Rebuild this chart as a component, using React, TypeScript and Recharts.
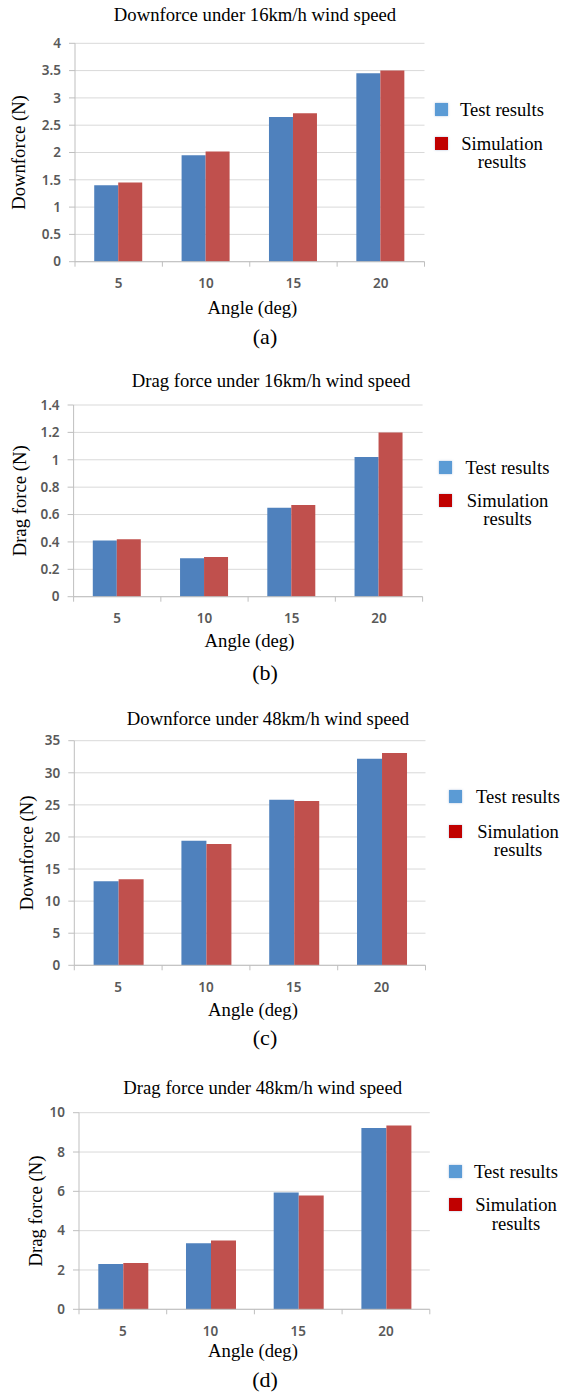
import React from 'react';
import { BarChart, Bar, XAxis, YAxis, CartesianGrid, Legend, Label } from 'recharts';

const angles = ['5', '10', '15', '20'];
const seriesNames = ['Test results', 'Simulation results'];
const legendLines = [['Test results'], ['Simulation', 'results']];

const downforce16Test = [1.4, 1.95, 2.65, 3.45];
const downforce16Sim = [1.45, 2.02, 2.72, 3.5];
const drag16Test = [0.41, 0.28, 0.65, 1.02];
const drag16Sim = [0.42, 0.29, 0.67, 1.2];
const downforce48Test = [13.1, 19.4, 25.8, 32.2];
const downforce48Sim = [13.4, 18.9, 25.6, 33.1];
const drag48Test = [2.3, 3.36, 5.94, 9.22];
const drag48Sim = [2.35, 3.5, 5.79, 9.35];

const ticksA = [0, 0.5, 1, 1.5, 2, 2.5, 3, 3.5, 4];
const ticksB = [0, 0.2, 0.4, 0.6, 0.8, 1, 1.2, 1.4];
const ticksC = [0, 5, 10, 15, 20, 25, 30, 35];
const ticksD = [0, 2, 4, 6, 8, 10];

const titles = [
  'Downforce under 16km/h wind speed',
  'Drag force under 16km/h wind speed',
  'Downforce under 48km/h wind speed',
  'Drag force under 48km/h wind speed',
];
const yTitles = ['Downforce (N)', 'Drag force (N)', 'Downforce (N)', 'Drag force (N)'];
const xTitle = 'Angle (deg)';
const captions = ['(a)', '(b)', '(c)', '(d)'];

const barColors = ['#4F81BD', '#C0504D'];
const legendColors = ['#5B9BD5', '#C00000'];
const GRID = '#D9D9D9';
const AXIS = '#BFBFBF';
const TICK_FILL = '#595959';
const SERIF = '"Liberation Serif", "Times New Roman", serif';
const SANS = '"Noto Sans", "Open Sans", sans-serif';
const TEXT_SIZE = 18.7;

const buildRows = (test: number[], sim: number[]) =>
  angles.map((a, i) => ({ angle: a, test: test[i], sim: sim[i] }));

type Cfg = {
  top: number; height: number;
  l: number; r: number; t: number; b: number;
  rows: any[]; ticks: number[];
  title: string; titleCX: number; titleCY: number;
  yTitle: string; yTitleCX: number;
  xTitleCX: number; xTitleDY: number;
  caption: string; capCY: number;
  legX: number; legBlueCY: number; legGap: number; legTextCX: number;
};

const panels: Cfg[] = [
  {
    top: 0, height: 345, l: 75, r: 424.5, t: 43.3, b: 261.7,
    rows: buildRows(downforce16Test, downforce16Sim), ticks: ticksA,
    title: titles[0], titleCX: 255, titleCY: 14.5,
    yTitle: yTitles[0], yTitleCX: 18.7, xTitleCX: 252.4, xTitleDY: 46,
    caption: captions[0], capCY: 337,
    legX: 435, legBlueCY: 109.2, legGap: 34, legTextCX: 502,
  },
  {
    top: 345, height: 345, l: 73.6, r: 422.6, t: 405, b: 596.7,
    rows: buildRows(drag16Test, drag16Sim), ticks: ticksB,
    title: titles[1], titleCX: 271, titleCY: 381,
    yTitle: yTitles[1], yTitleCX: 19.7, xTitleCX: 249.5, xTitleDY: 43.3,
    caption: captions[1], capCY: 673,
    legX: 438.8, legBlueCY: 467.3, legGap: 33, legTextCX: 507.5,
  },
  {
    top: 690, height: 350, l: 74.3, r: 425.5, t: 740.7, b: 965.3,
    rows: buildRows(downforce48Test, downforce48Sim), ticks: ticksC,
    title: titles[2], titleCX: 268, titleCY: 718.5,
    yTitle: yTitles[2], yTitleCX: 26.9, xTitleCX: 253, xTitleDY: 43.7,
    caption: captions[2], capCY: 1038,
    legX: 448.8, legBlueCY: 796.7, legGap: 34.6, legTextCX: 518,
  },
  {
    top: 1040, height: 353, l: 79, r: 429.8, t: 1112.7, b: 1309.3,
    rows: buildRows(drag48Test, drag48Sim), ticks: ticksD,
    title: titles[3], titleCX: 262.7, titleCY: 1087.5,
    yTitle: yTitles[3], yTitleCX: 35.2, xTitleCX: 253, xTitleDY: 40.7,
    caption: captions[3], capCY: 1380,
    legX: 448.8, legBlueCY: 1171, legGap: 33.7, legTextCX: 516,
  },
];

const Y_AXIS_W = 44;
const X_AXIS_H = 30;
const W = 563;

function Panel({ cfg }: { cfg: Cfg }) {
  const tRel = cfg.t - cfg.top;
  const bRel = cfg.b - cfg.top;
  const margin = {
    top: tRel,
    left: cfg.l - Y_AXIS_W,
    right: W - cfg.r,
    bottom: cfg.height - bRel - X_AXIS_H,
  };
  const bw = (cfg.r - cfg.l) / cfg.rows.length;
  const lastIdx = cfg.rows.length - 1;
  const legTop = cfg.legBlueCY - 6.5 - cfg.top;

  const XTick = (p: any) => {
    const { x, payload, index } = p;
    return (
      <g>
        <line x1={x - bw / 2} x2={x - bw / 2} y1={bRel} y2={bRel + 5} stroke={AXIS} />
        {index === lastIdx && (
          <line x1={x + bw / 2} x2={x + bw / 2} y1={bRel} y2={bRel + 5} stroke={AXIS} />
        )}
        <text x={x} y={bRel + 21.6} textAnchor="middle" dominantBaseline="central"
          style={{ fontFamily: SANS, fontSize: 13.5, fontWeight: 600, fill: TICK_FILL }}>
          {payload.value}
        </text>
      </g>
    );
  };

  const renderLegend = (props: any) => {
    const payload = props.payload || [];
    return (
      <div style={{ position: 'relative', width: 130, height: 90 }}>
        {payload.map((entry: any, i: number) => {
          const cy = 6.5 + i * cfg.legGap;
          return (
            <React.Fragment key={i}>
              <div style={{
                position: 'absolute', left: 0, top: cy - 6.5, width: 13, height: 13,
                background: legendColors[i], boxShadow: '0 0 2px rgba(120,150,200,0.6)',
              }} />
              {legendLines[i].map((line, j) => (
                <div key={j} style={{
                  position: 'absolute', left: cfg.legTextCX - cfg.legX - 60, width: 120,
                  top: cy - 9.5 + j * 18.3, height: 19, lineHeight: '19px', textAlign: 'center',
                  fontFamily: SERIF, fontSize: 18.6, color: '#000', whiteSpace: 'nowrap',
                }}>
                  {line}
                </div>
              ))}
            </React.Fragment>
          );
        })}
      </div>
    );
  };

  return (
    <div style={{ position: 'absolute', left: 0, top: cfg.top, width: W, height: cfg.height }}>
      <BarChart width={W} height={cfg.height} data={cfg.rows} margin={margin}
        barCategoryGap="22%" barGap={0}>
        <CartesianGrid horizontal vertical={false} stroke={GRID} />
        <XAxis dataKey="angle" height={X_AXIS_H} axisLine={{ stroke: AXIS }} tickLine={false}
          tick={XTick} interval={0}>
          <Label content={() => (
            <text x={cfg.xTitleCX} y={bRel + cfg.xTitleDY} textAnchor="middle" dominantBaseline="central"
              style={{ fontFamily: SERIF, fontSize: TEXT_SIZE, fill: '#000' }}>
              {xTitle}
            </text>
          )} />
        </XAxis>
        <YAxis width={Y_AXIS_W} domain={[0, cfg.ticks[cfg.ticks.length - 1]]} ticks={cfg.ticks}
          interval={0} axisLine={{ stroke: AXIS }} tickLine={{ stroke: AXIS }} tickSize={6} tickMargin={8}
          tick={{ fontFamily: SANS, fontSize: 13.5, fontWeight: 600, fill: TICK_FILL }}>
          <Label content={() => {
            const cy = (tRel + bRel) / 2;
            return (
              <text x={cfg.yTitleCX} y={cy} textAnchor="middle" dominantBaseline="central"
                transform={`rotate(-90 ${cfg.yTitleCX} ${cy})`}
                style={{ fontFamily: SERIF, fontSize: TEXT_SIZE, fill: '#000' }}>
                {cfg.yTitle}
              </text>
            );
          }} />
        </YAxis>
        <Legend layout="horizontal" align="center" verticalAlign="middle" content={renderLegend}
          wrapperStyle={{ position: 'absolute', left: cfg.legX, top: legTop, width: 130, height: 90 }} />
        <Bar dataKey="test" name={seriesNames[0]} fill={barColors[0]} isAnimationActive={false} />
        <Bar dataKey="sim" name={seriesNames[1]} fill={barColors[1]} isAnimationActive={false} />
      </BarChart>
      <div style={{
        position: 'absolute', left: cfg.titleCX, top: cfg.titleCY - cfg.top,
        transform: 'translate(-50%, -50%)', whiteSpace: 'nowrap', lineHeight: 1,
        fontFamily: SERIF, fontSize: TEXT_SIZE, color: '#000',
      }}>{cfg.title}</div>
      <div style={{
        position: 'absolute', left: 265, top: cfg.capCY - cfg.top,
        transform: 'translate(-50%, -50%)', whiteSpace: 'nowrap', lineHeight: 1,
        fontFamily: SERIF, fontSize: 22, color: '#000',
      }}>{cfg.caption}</div>
    </div>
  );
}

export default function App() {
  return (
    <div style={{ position: 'absolute', left: 0, top: 0, width: W, height: 1393, background: '#fff' }}>
      {panels.map((p, i) => <Panel key={i} cfg={p} />)}
    </div>
  );
}
